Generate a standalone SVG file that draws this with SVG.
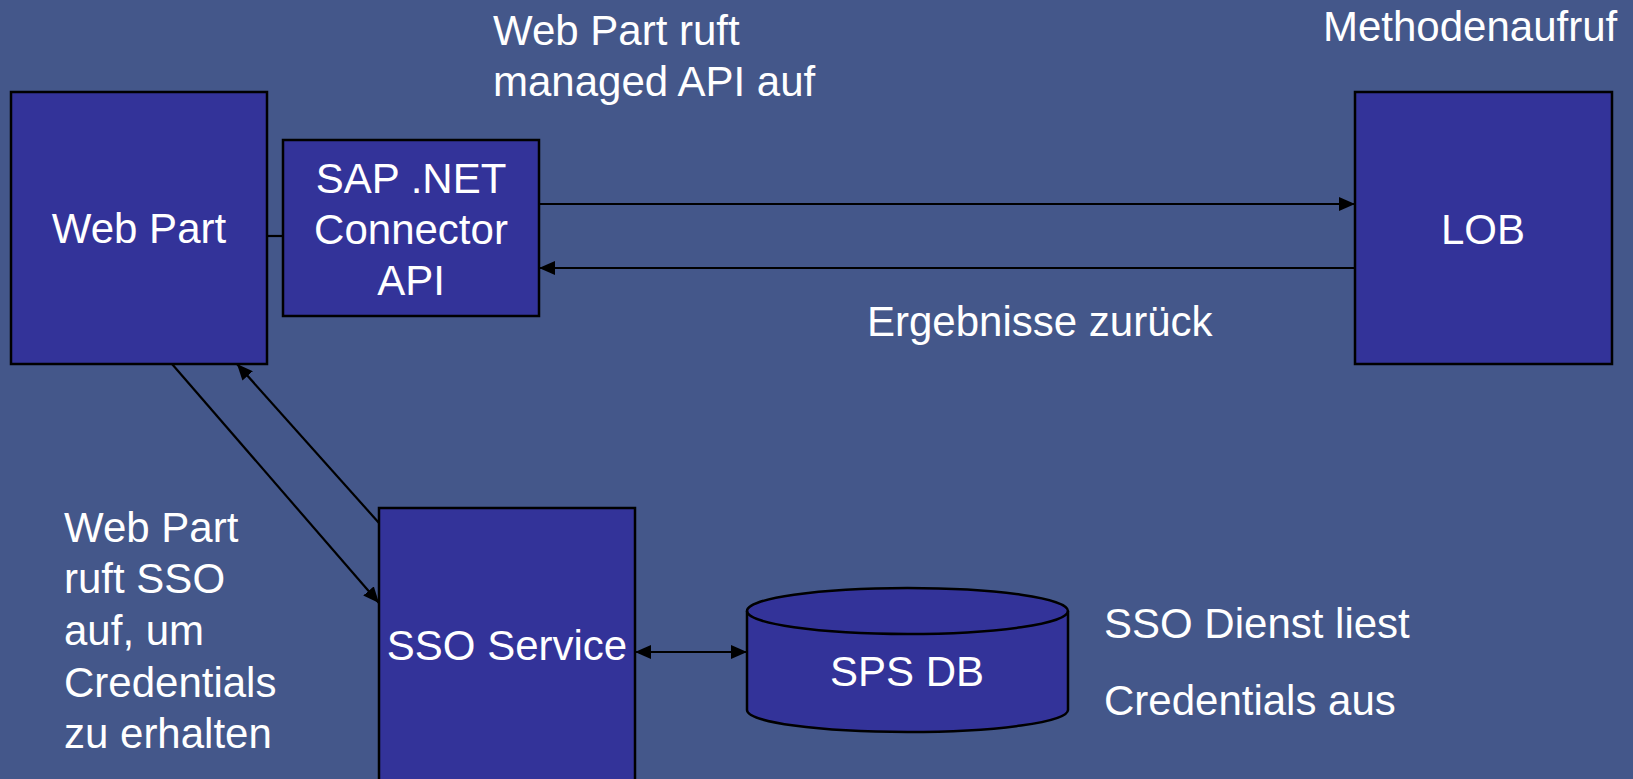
<svg xmlns="http://www.w3.org/2000/svg" width="1633" height="779" viewBox="0 0 1633 779">
<defs>
<marker id="ah" markerUnits="userSpaceOnUse" markerWidth="16" markerHeight="14" refX="16" refY="7" orient="auto-start-reverse"><path d="M0,0 L16,7 L0,14 Z" fill="#000"/></marker>
<style>
.box{fill:#333399;stroke:#000;stroke-width:2.5}
.t{font-family:"Liberation Sans",Arial,sans-serif;font-size:42px;fill:#fff}
.c{text-anchor:middle}
.ln{stroke:#000;stroke-width:2.2;fill:none}
</style>
</defs>
<rect width="1633" height="779" fill="#44578a"/>
<g id="connectors">
<line class="ln" x1="267" y1="236" x2="283" y2="236"/>
<line class="ln" x1="539" y1="204" x2="1355" y2="204" marker-end="url(#ah)"/>
<line class="ln" x1="1355" y1="268" x2="539" y2="268" marker-end="url(#ah)"/>
<line class="ln" x1="172" y1="364" x2="379" y2="603" marker-end="url(#ah)"/>
<line class="ln" x1="379" y1="523" x2="237" y2="364" marker-end="url(#ah)"/>
<line class="ln" x1="635" y1="652" x2="747" y2="652" marker-start="url(#ah)" marker-end="url(#ah)"/>
</g>
<g id="webpart">
<rect class="box" x="11" y="92" width="256" height="272"/>
<text class="t c" x="139" y="243">Web Part</text>
</g>
<g id="sapapi">
<rect class="box" x="283" y="140" width="256" height="176"/>
<text class="t c" x="411" y="193">SAP .NET</text>
<text class="t c" x="411" y="244">Connector</text>
<text class="t c" x="411" y="295">API</text>
</g>
<g id="lob">
<rect class="box" x="1355" y="92" width="257" height="272"/>
<text class="t c" x="1483" y="244">LOB</text>
</g>
<g id="sso">
<rect class="box" x="379" y="508" width="256" height="290"/>
<text class="t c" x="507" y="660">SSO Service</text>
</g>
<g id="spsdb">
<path class="box" d="M747,611 L747,710 A160.5,22 0 0 0 1068,710 L1068,611 A160.5,23 0 0 0 747,611 Z"/>
<path class="box" style="fill:none" d="M747,611 A160.5,23 0 0 0 1068,611"/>
<text class="t c" x="907" y="686">SPS DB</text>
</g>
<g id="labels">
<text class="t" x="493" y="45">Web Part ruft</text>
<text class="t" x="493" y="96">managed API auf</text>
<text class="t" x="1323" y="41">Methodenaufruf</text>
<text class="t" x="867" y="336">Ergebnisse zurück</text>
<text class="t" x="64" y="542">Web Part</text>
<text class="t" x="64" y="593">ruft SSO</text>
<text class="t" x="64" y="645">auf, um</text>
<text class="t" x="64" y="697">Credentials</text>
<text class="t" x="64" y="748">zu erhalten</text>
<text class="t" x="1104" y="638">SSO Dienst liest</text>
<text class="t" x="1104" y="715">Credentials aus</text>
</g>
</svg>
